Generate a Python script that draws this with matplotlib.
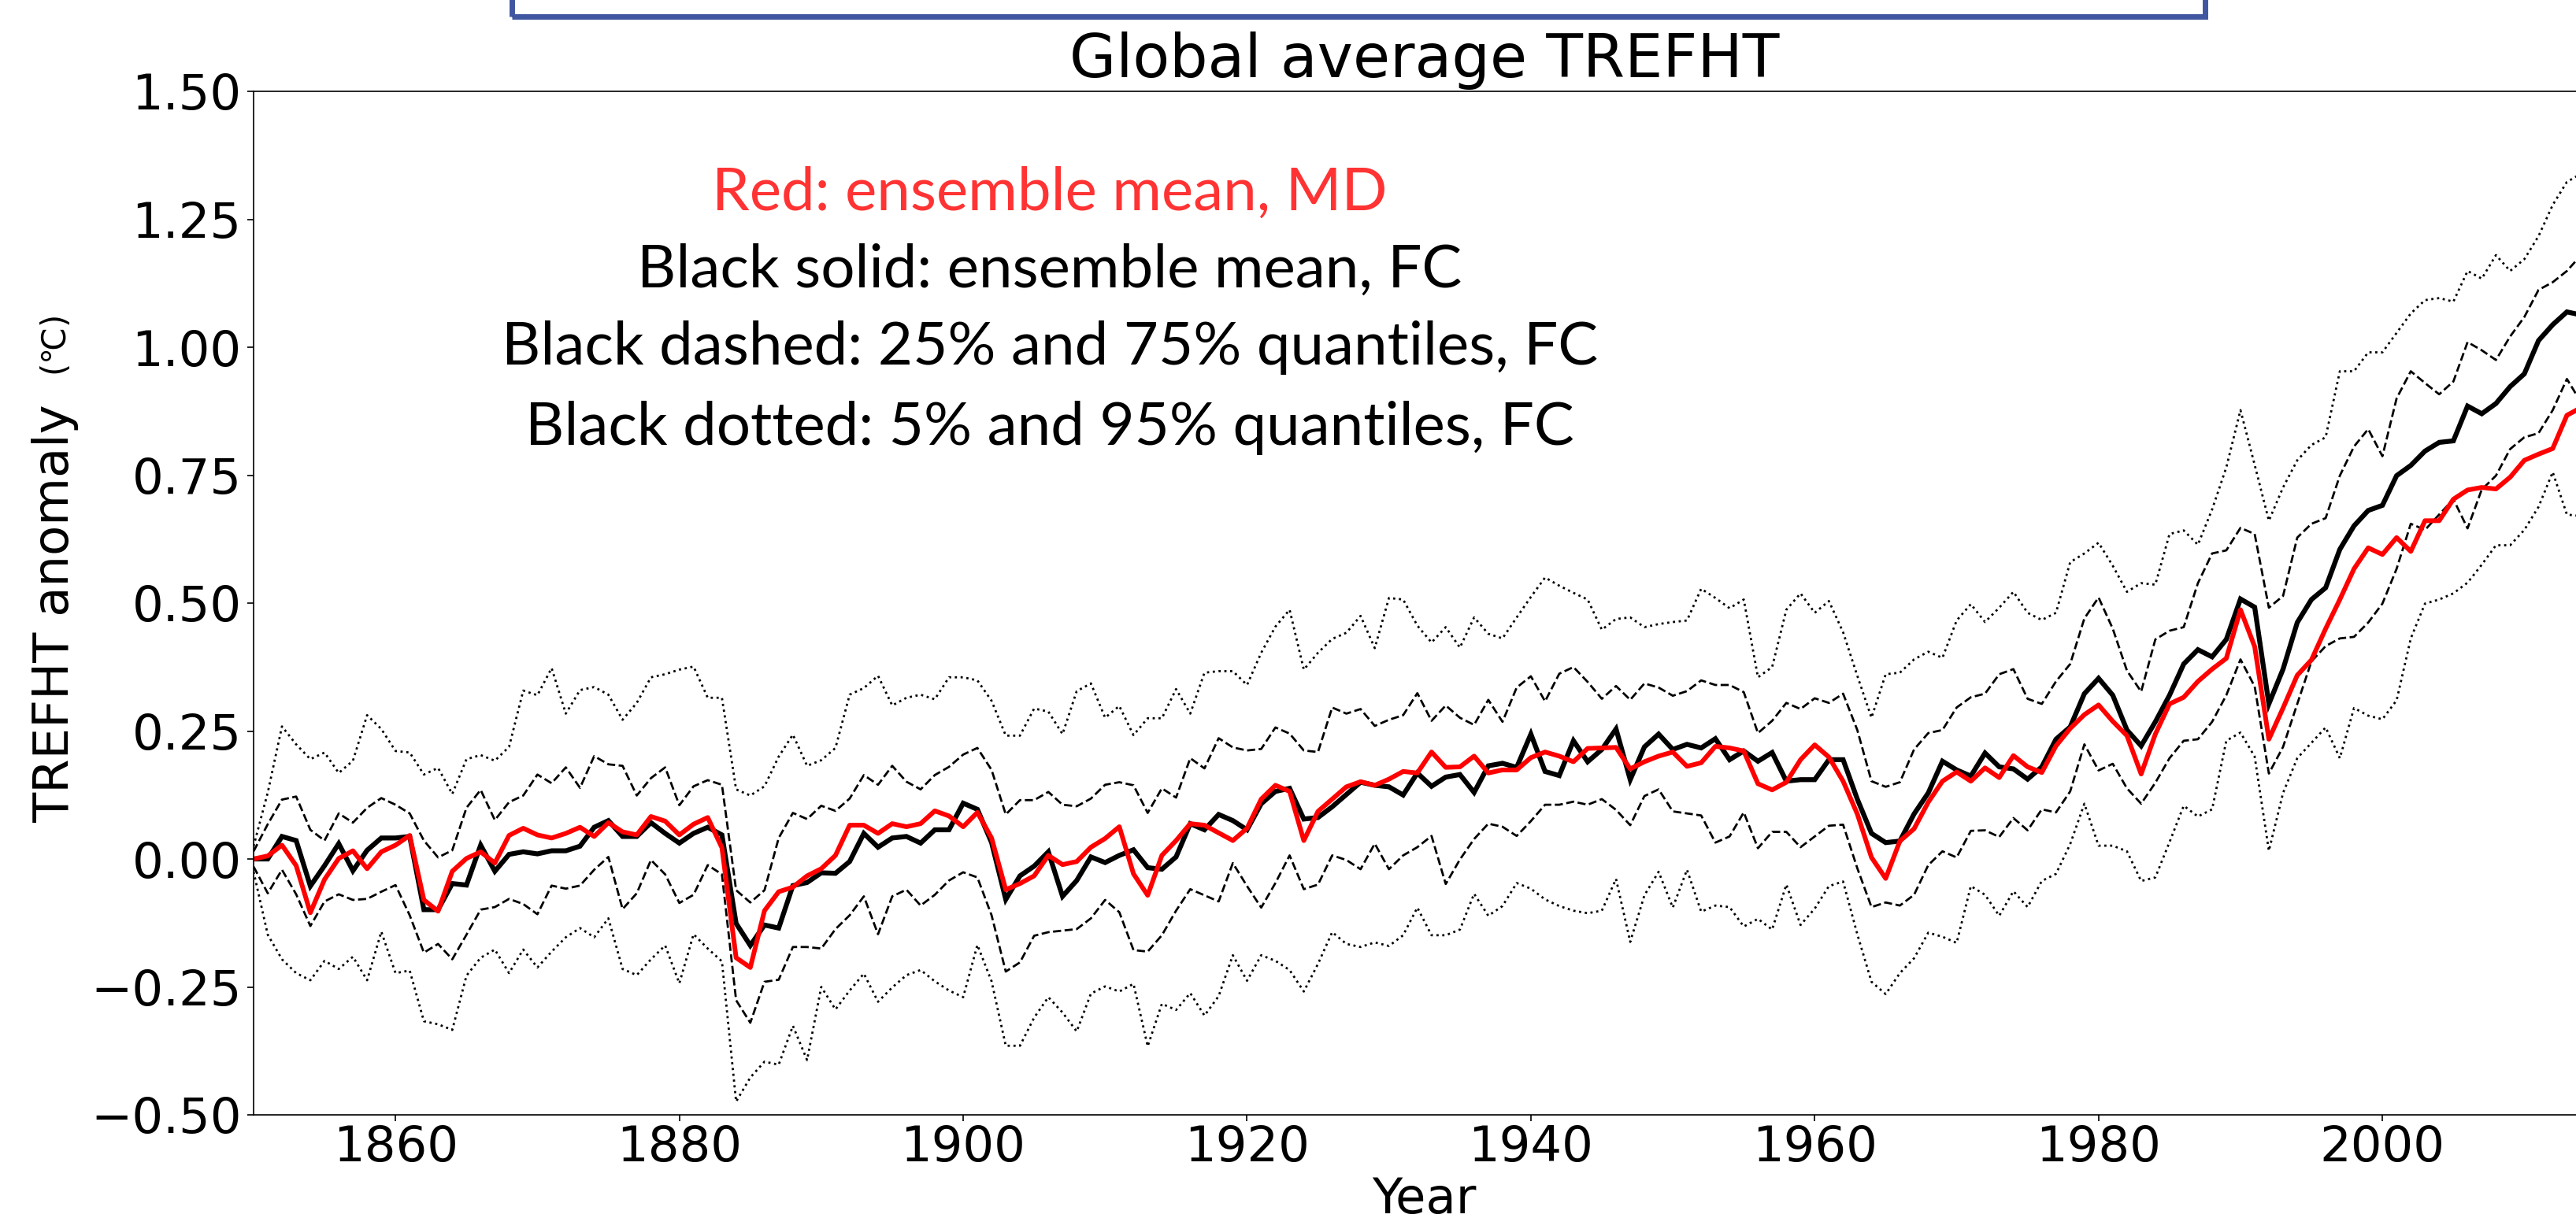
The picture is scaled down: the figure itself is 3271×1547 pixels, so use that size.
import matplotlib
matplotlib.use("Agg")
import matplotlib.pyplot as plt
from matplotlib.patches import Rectangle
import numpy as np

years = list(range(1850, 2015))

fc_mean = [
    0.000, 0.000, 0.044, 0.036, -0.053, -0.013, 0.030, -0.023, 0.017, 0.041,
    0.041, 0.044, -0.099, -0.099, -0.048, -0.051, 0.027, -0.024, 0.009, 0.014,
    0.010, 0.016, 0.016, 0.025, 0.062, 0.075, 0.044, 0.044, 0.071, 0.050,
    0.031, 0.050, 0.062, 0.047, -0.126, -0.169, -0.129, -0.135, -0.052, -0.046,
    -0.027, -0.028, -0.005, 0.050, 0.023, 0.041, 0.044, 0.031, 0.057, 0.057,
    0.109, 0.097, 0.032, -0.079, -0.033, -0.014, 0.014, -0.073, -0.042, 0.004,
    -0.007, 0.007, 0.018, -0.017, -0.020, 0.004, 0.069, 0.057, 0.087, 0.075,
    0.057, 0.108, 0.132, 0.138, 0.078, 0.081, 0.102, 0.126, 0.150, 0.144,
    0.141, 0.125, 0.168, 0.142, 0.160, 0.165, 0.130, 0.182, 0.187, 0.179,
    0.244, 0.171, 0.163, 0.231, 0.190, 0.214, 0.254, 0.155, 0.219, 0.244,
    0.214, 0.224, 0.217, 0.235, 0.194, 0.211, 0.191, 0.208, 0.152, 0.155,
    0.155, 0.194, 0.194, 0.117, 0.050, 0.032, 0.035, 0.088, 0.129, 0.191,
    0.174, 0.162, 0.207, 0.180, 0.176, 0.156, 0.180, 0.234, 0.258, 0.323,
    0.353, 0.320, 0.252, 0.221, 0.268, 0.320, 0.381, 0.409, 0.395, 0.429,
    0.508, 0.492, 0.303, 0.371, 0.462, 0.507, 0.530, 0.605, 0.651, 0.681,
    0.691, 0.749, 0.769, 0.797, 0.814, 0.817, 0.885, 0.870, 0.890, 0.923,
    0.948, 1.013, 1.044, 1.069, 1.063,
]

md_mean = [
    0.000, 0.006, 0.027, -0.013, -0.105, -0.040, 0.001, 0.016, -0.019, 0.014,
    0.027, 0.046, -0.080, -0.102, -0.024, 0.001, 0.014, -0.008, 0.046, 0.060,
    0.047, 0.041, 0.050, 0.062, 0.044, 0.071, 0.053, 0.047, 0.083, 0.074,
    0.047, 0.068, 0.081, 0.022, -0.193, -0.212, -0.101, -0.064, -0.055, -0.033,
    -0.019, 0.007, 0.066, 0.066, 0.050, 0.069, 0.063, 0.069, 0.094, 0.084,
    0.063, 0.091, 0.041, -0.060, -0.048, -0.033, 0.007, -0.011, -0.005, 0.023,
    0.040, 0.063, -0.029, -0.071, 0.007, 0.036, 0.069, 0.066, 0.051, 0.036,
    0.060, 0.117, 0.144, 0.132, 0.036, 0.093, 0.117, 0.141, 0.151, 0.144,
    0.156, 0.171, 0.168, 0.209, 0.179, 0.180, 0.201, 0.168, 0.174, 0.174,
    0.198, 0.209, 0.201, 0.190, 0.216, 0.217, 0.218, 0.176, 0.190, 0.201,
    0.209, 0.181, 0.188, 0.220, 0.217, 0.211, 0.147, 0.135, 0.150, 0.194,
    0.223, 0.199, 0.152, 0.088, 0.003, -0.038, 0.035, 0.059, 0.111, 0.152,
    0.170, 0.152, 0.178, 0.159, 0.202, 0.180, 0.169, 0.221, 0.255, 0.282,
    0.301, 0.269, 0.241, 0.166, 0.244, 0.303, 0.316, 0.347, 0.371, 0.392,
    0.487, 0.415, 0.234, 0.295, 0.359, 0.389, 0.450, 0.507, 0.567, 0.608,
    0.595, 0.628, 0.601, 0.661, 0.661, 0.703, 0.721, 0.726, 0.723, 0.746,
    0.779, 0.791, 0.802, 0.867, 0.882,
]

fc_q75 = [
    0.015, 0.068, 0.116, 0.122, 0.057, 0.036, 0.089, 0.071, 0.100, 0.119,
    0.106, 0.089, 0.036, 0.003, 0.017, 0.100, 0.135, 0.076, 0.111, 0.124,
    0.165, 0.148, 0.179, 0.139, 0.201, 0.185, 0.182, 0.124, 0.158, 0.179,
    0.105, 0.142, 0.154, 0.145, -0.061, -0.085, -0.061, 0.041, 0.090, 0.078,
    0.104, 0.094, 0.118, 0.164, 0.145, 0.182, 0.151, 0.136, 0.164, 0.180,
    0.204, 0.217, 0.174, 0.087, 0.115, 0.115, 0.131, 0.106, 0.103, 0.118,
    0.145, 0.150, 0.144, 0.090, 0.138, 0.120, 0.197, 0.177, 0.236, 0.218,
    0.212, 0.215, 0.257, 0.245, 0.212, 0.209, 0.296, 0.284, 0.293, 0.260,
    0.272, 0.281, 0.324, 0.270, 0.300, 0.276, 0.262, 0.311, 0.268, 0.335,
    0.357, 0.308, 0.362, 0.375, 0.346, 0.313, 0.338, 0.311, 0.343, 0.335,
    0.319, 0.328, 0.349, 0.340, 0.340, 0.326, 0.246, 0.270, 0.305, 0.293,
    0.314, 0.305, 0.323, 0.252, 0.152, 0.141, 0.150, 0.214, 0.246, 0.252,
    0.296, 0.316, 0.323, 0.361, 0.371, 0.313, 0.303, 0.347, 0.381, 0.470,
    0.511, 0.450, 0.368, 0.327, 0.429, 0.446, 0.453, 0.539, 0.597, 0.603,
    0.647, 0.635, 0.491, 0.514, 0.628, 0.655, 0.666, 0.749, 0.806, 0.840,
    0.787, 0.900, 0.953, 0.930, 0.908, 0.933, 1.010, 0.994, 0.975, 1.021,
    1.059, 1.112, 1.127, 1.149, 1.180,
]

fc_q25 = [
    -0.015, -0.067, -0.021, -0.069, -0.131, -0.083, -0.069, -0.080, -0.078, -0.064,
    -0.051, -0.110, -0.183, -0.166, -0.196, -0.148, -0.099, -0.094, -0.078, -0.088,
    -0.108, -0.052, -0.058, -0.052, -0.021, 0.004, -0.098, -0.067, -0.002, -0.030,
    -0.086, -0.070, -0.012, -0.030, -0.276, -0.320, -0.240, -0.236, -0.172, -0.172,
    -0.175, -0.137, -0.110, -0.073, -0.147, -0.073, -0.060, -0.091, -0.070, -0.042,
    -0.026, -0.036, -0.110, -0.220, -0.202, -0.150, -0.143, -0.140, -0.137, -0.116,
    -0.080, -0.104, -0.178, -0.181, -0.149, -0.101, -0.059, -0.071, -0.083, -0.008,
    -0.053, -0.095, -0.047, 0.007, -0.059, -0.050, 0.007, -0.002, -0.020, 0.030,
    -0.020, 0.007, 0.023, 0.045, -0.049, -0.001, 0.039, 0.069, 0.063, 0.045,
    0.074, 0.106, 0.106, 0.112, 0.106, 0.117, 0.096, 0.066, 0.123, 0.136,
    0.093, 0.089, 0.085, 0.032, 0.044, 0.091, 0.021, 0.053, 0.053, 0.023,
    0.044, 0.065, 0.067, -0.018, -0.094, -0.085, -0.091, -0.070, -0.012, 0.015,
    0.003, 0.055, 0.056, 0.043, 0.080, 0.056, 0.097, 0.091, 0.132, 0.224,
    0.173, 0.186, 0.138, 0.108, 0.149, 0.197, 0.231, 0.234, 0.268, 0.320,
    0.390, 0.337, 0.167, 0.219, 0.303, 0.386, 0.416, 0.431, 0.434, 0.462,
    0.499, 0.567, 0.655, 0.643, 0.673, 0.703, 0.646, 0.722, 0.749, 0.801,
    0.824, 0.832, 0.877, 0.938, 0.892,
]

fc_q95 = [
    0.025, 0.130, 0.259, 0.224, 0.195, 0.208, 0.168, 0.192, 0.281, 0.254,
    0.211, 0.208, 0.165, 0.178, 0.127, 0.195, 0.203, 0.192, 0.219, 0.329,
    0.320, 0.373, 0.284, 0.330, 0.336, 0.321, 0.272, 0.305, 0.355, 0.361,
    0.370, 0.376, 0.315, 0.315, 0.136, 0.124, 0.142, 0.200, 0.243, 0.182,
    0.193, 0.217, 0.321, 0.334, 0.358, 0.300, 0.315, 0.321, 0.312, 0.355,
    0.355, 0.349, 0.309, 0.241, 0.241, 0.294, 0.288, 0.244, 0.328, 0.343,
    0.276, 0.299, 0.242, 0.275, 0.275, 0.332, 0.284, 0.364, 0.367, 0.367,
    0.340, 0.403, 0.454, 0.487, 0.370, 0.403, 0.430, 0.442, 0.475, 0.412,
    0.510, 0.507, 0.456, 0.423, 0.453, 0.413, 0.472, 0.440, 0.431, 0.472,
    0.512, 0.550, 0.534, 0.520, 0.507, 0.448, 0.469, 0.472, 0.453, 0.459,
    0.463, 0.466, 0.528, 0.510, 0.490, 0.507, 0.355, 0.375, 0.487, 0.519,
    0.481, 0.504, 0.443, 0.358, 0.276, 0.361, 0.364, 0.390, 0.405, 0.393,
    0.466, 0.498, 0.463, 0.491, 0.522, 0.481, 0.467, 0.481, 0.580, 0.597,
    0.618, 0.573, 0.522, 0.539, 0.536, 0.635, 0.642, 0.614, 0.683, 0.765,
    0.877, 0.770, 0.661, 0.726, 0.779, 0.809, 0.824, 0.953, 0.953, 0.990,
    0.990, 1.028, 1.066, 1.092, 1.096, 1.089, 1.149, 1.134, 1.180, 1.149,
    1.172, 1.217, 1.278, 1.323, 1.339,
]

fc_q05 = [
    -0.025, -0.148, -0.196, -0.223, -0.237, -0.199, -0.215, -0.191, -0.237, -0.142,
    -0.223, -0.218, -0.317, -0.323, -0.334, -0.228, -0.193, -0.177, -0.223, -0.177,
    -0.212, -0.181, -0.153, -0.135, -0.153, -0.116, -0.215, -0.227, -0.196, -0.169,
    -0.243, -0.147, -0.175, -0.200, -0.474, -0.427, -0.396, -0.402, -0.326, -0.393,
    -0.250, -0.294, -0.257, -0.224, -0.279, -0.251, -0.227, -0.217, -0.239, -0.257,
    -0.270, -0.168, -0.239, -0.365, -0.365, -0.310, -0.270, -0.300, -0.337, -0.263,
    -0.249, -0.259, -0.244, -0.366, -0.283, -0.295, -0.262, -0.306, -0.268, -0.188,
    -0.238, -0.188, -0.199, -0.217, -0.259, -0.205, -0.143, -0.166, -0.172, -0.163,
    -0.170, -0.149, -0.095, -0.149, -0.149, -0.138, -0.068, -0.111, -0.092, -0.047,
    -0.058, -0.079, -0.092, -0.101, -0.106, -0.101, -0.039, -0.162, -0.071, -0.025,
    -0.095, -0.021, -0.103, -0.091, -0.094, -0.132, -0.117, -0.138, -0.050, -0.129,
    -0.097, -0.053, -0.044, -0.147, -0.240, -0.264, -0.223, -0.194, -0.144, -0.152,
    -0.164, -0.053, -0.070, -0.111, -0.063, -0.094, -0.043, -0.029, 0.029, 0.108,
    0.026, 0.026, 0.015, -0.043, -0.036, 0.033, 0.104, 0.083, 0.097, 0.231,
    0.247, 0.200, 0.016, 0.129, 0.197, 0.227, 0.257, 0.197, 0.295, 0.280,
    0.273, 0.310, 0.431, 0.499, 0.507, 0.519, 0.540, 0.575, 0.613, 0.613,
    0.643, 0.688, 0.756, 0.673, 0.670,
]

x_ticks = [1860, 1880, 1900, 1920, 1940, 1960, 1980, 2000]
y_ticks = [-0.50, -0.25, 0.00, 0.25, 0.50, 0.75, 1.00, 1.25, 1.50]

notes = [
    ("Red: ensemble mean, MD", "#FF3333"),
    ("Black solid: ensemble mean, FC", "black"),
    ("Black dashed: 25% and 75% quantiles, FC", "black"),
    ("Black dotted: 5% and 95% quantiles, FC", "black"),
]

W, H = 3271, 1547
fig = plt.figure(figsize=(W / 100, H / 100), dpi=100)
fig.patch.set_facecolor("white")

left_px, right_px = 322.0, 3295.5
top_px, bot_px = 116.0, 1416.0
ax = fig.add_axes([left_px / W, (H - bot_px) / H,
                   (right_px - left_px) / W, (bot_px - top_px) / H])

ax.plot(years, fc_q95, color="black", lw=2.0, ls=":")
ax.plot(years, fc_q05, color="black", lw=2.0, ls=":")
ax.plot(years, fc_q75, color="black", lw=2.0, ls="--")
ax.plot(years, fc_q25, color="black", lw=2.0, ls="--")
ax.plot(years, fc_mean, color="black", lw=4.5, solid_joinstyle="miter")
ax.plot(years, md_mean, color="red", lw=4.3)

ax.set_xlim(1850, 2015)
ax.set_ylim(-0.5, 1.5)
ax.set_xticks(x_ticks)
ax.set_yticks(y_ticks)
ax.tick_params(axis="both", direction="out", length=6, width=1.2, labelsize=45)
ax.tick_params(axis="x", pad=3)
ax.tick_params(axis="y", pad=5)
for sp in ax.spines.values():
    sp.set_linewidth(1.2)

ax.set_title("Global average TREFHT", fontsize=55, pad=13)
ax.set_xlabel("Year", fontsize=45, labelpad=4)

# y label (main part and smaller unit part)
fig.text(87 / W, 1 - 779 / H, "TREFHT anomaly", rotation=90, fontsize=45,
         ha="center", va="baseline", rotation_mode="anchor")
fig.text(80 / W, 1 - 434 / H, "(℃)", rotation=90, fontsize=30,
         ha="center", va="baseline", rotation_mode="anchor")

# annotation text block
cx = 1333 / W
baselines = [267, 365, 463, 565]
fam = ["Lato", "DejaVu Sans"]
fs = 58
t0 = fig.text(cx, 1 - baselines[0] / H, notes[0][0], fontsize=fs, family=fam,
              ha="center", va="baseline", color=notes[0][1])
fig.canvas.draw()
w0 = t0.get_window_extent().width
fs = fs * 858.0 / w0
t0.set_fontsize(fs)
for (txt, col), b in list(zip(notes, baselines))[1:]:
    fig.text(cx, 1 - b / H, txt, fontsize=fs, family=fam,
             ha="center", va="baseline", color=col)

# blue frame at the top (partially visible box)
rect = Rectangle((650 / W, (H - 21) / H), (2800 - 650) / W, 0.2,
                 transform=fig.transFigure, fill=False,
                 edgecolor="#4156A1", linewidth=5, clip_on=False)
fig.patches.append(rect)

fig.savefig("out.png", dpi=100, facecolor="white")
